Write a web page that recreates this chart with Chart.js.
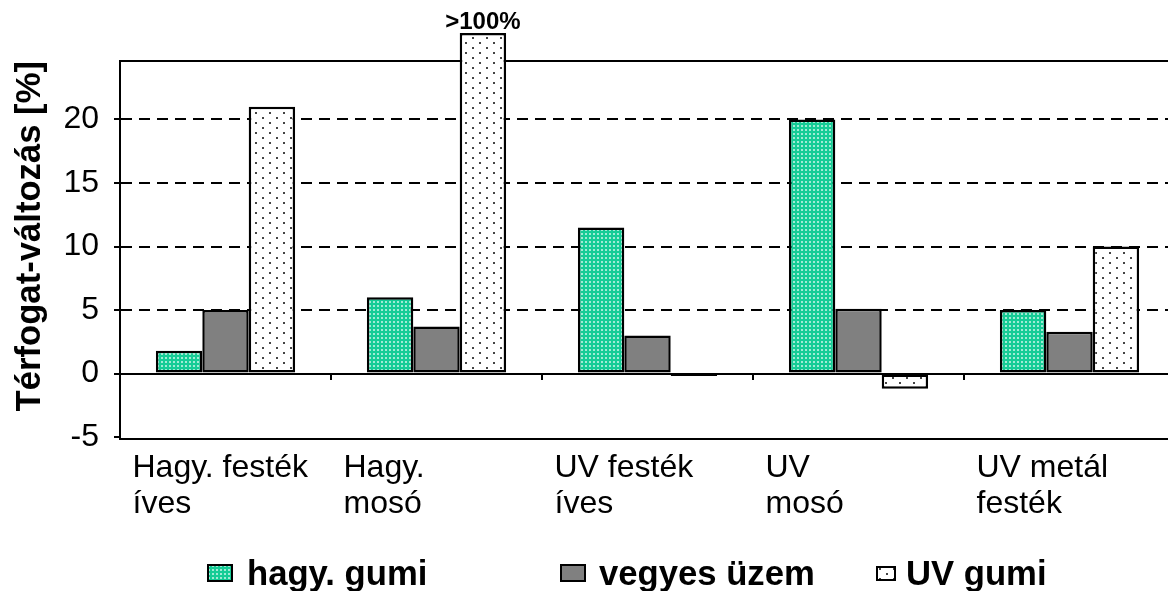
<!DOCTYPE html>
<html>
<head>
<meta charset="utf-8">
<script src="https://cdn.jsdelivr.net/npm/chart.js@4/dist/chart.umd.min.js"></script>
<style>
  html, body { margin: 0; padding: 0; background: #fff; overflow: hidden; }
  #wrap { position: relative; width: 1175px; height: 591px; }
  #legend { position: absolute; left: 0; top: 0; width: 1175px; height: 591px; pointer-events: none; }
  .sw { position: absolute; }
  .lt { position: absolute; font-family: "Liberation Sans", Arial, sans-serif; font-weight: bold;
        font-size: 34.67px; line-height: 40px; color: #000; white-space: nowrap; }
</style>
</head>
<body>
<div id="wrap">
  <canvas id="c"></canvas>
  <div id="legend"></div>
</div>
<script>
// ---- data ----
const categories = [
  ['Hagy. festék', 'íves'],
  ['Hagy.', 'mosó'],
  ['UV festék', 'íves'],
  ['UV', 'mosó'],
  ['UV metál', 'festék']
];
const seriesNames = ['hagy. gumi', 'vegyes üzem', 'UV gumi'];
const hagyGumi   = [1.8, 6.0, 11.5, 20.0, 5.0];
const vegyesUzem = [5.0, 3.7, 3.0, 5.1, 3.3];
const uvGumi     = [21.0, 26.8, -0.2, -1.2, 10.0];
const uvGumiNotes = ['', '>100%', '', '', ''];
const yTicks = [-5, 0, 5, 10, 15, 20];
const yMin = -5.15, yMax = 24.6;
const yTitle = 'Térfogat-változás [%]';

// ---- patterns ----
function makeGreen() {
  const c = document.createElement('canvas'); c.width = 4; c.height = 4;
  const g = c.getContext('2d');
  g.fillStyle = '#16cc96'; g.fillRect(0, 0, 4, 4);
  g.fillStyle = 'rgba(255,255,255,0.6)'; g.fillRect(1, 1, 2, 2);
  return c;
}
function makeDots() {
  const c = document.createElement('canvas'); c.width = 14; c.height = 10;
  const g = c.getContext('2d');
  g.fillStyle = '#fff'; g.fillRect(0, 0, 14, 10);
  g.fillStyle = '#444'; g.fillRect(3, 2, 2, 2); g.fillRect(10, 7, 2, 2);
  return c;
}
const canvas = document.getElementById('c');
const ctx = canvas.getContext('2d');
const greenPat = ctx.createPattern(makeGreen(), 'repeat');
const dotPat = ctx.createPattern(makeDots(), 'repeat');
const fills = [greenPat, '#808080', dotPat];

const FONT = '"Liberation Sans", Arial, sans-serif';

const notePlugin = {
  id: 'notes',
  afterDatasetsDraw(chart) {
    const meta = chart.getDatasetMeta(2);
    const c = chart.ctx;
    c.save();
    c.font = 'bold 24px ' + FONT;
    c.fillStyle = '#000';
    c.textAlign = 'center';
    c.textBaseline = 'alphabetic';
    meta.data.forEach((el, i) => {
      if (uvGumiNotes[i]) c.fillText(uvGumiNotes[i], el.x, el.y - 4);
    });
    c.restore();
  }
};

const series = [hagyGumi, vegyesUzem, uvGumi];
const chart = new Chart(canvas, {
  type: 'bar',
  data: {
    labels: categories,
    datasets: series.map((d, i) => ({
      label: seriesNames[i],
      data: d,
      xAxisID: 'x',
      yAxisID: 'y',
      backgroundColor: fills[i],
      borderColor: '#000',
      borderWidth: 2.5,
      borderSkipped: false,
      categoryPercentage: 0.66,
      barPercentage: 1.0,
      clip: false
    }))
  },
  options: {
    responsive: true,
    maintainAspectRatio: false,
    animation: false,
    devicePixelRatio: 1,
    layout: { padding: { top: 61, left: 0, right: 0, bottom: 0 } },
    plugins: { legend: { display: false }, tooltip: { enabled: false } },
    scales: {
      x: {
        type: 'category',
        position: 'bottom',
        offset: true,
        grid: { display: false, offset: true },
        border: { display: true, color: '#000', width: 2 },
        ticks: {
          color: '#000',
          font: { family: FONT, size: 32, lineHeight: 1.125 },
          padding: 3,
          align: 'start',
          labelOffset: -93,
          maxRotation: 0, minRotation: 0,
          autoSkip: false
        },
        afterFit(s) { s.paddingLeft = 0; s.paddingRight = 0; s.height = 152; }
      },
      xTop: {
        type: 'category',
        axis: 'x',
        position: 'top',
        offset: true,
        grid: { display: false },
        border: { display: true, color: '#000', width: 2 },
        ticks: { display: false },
        afterFit(s) { s.paddingLeft = 0; s.paddingRight = 0; s.height = 0; }
      },
      xZero: {
        type: 'category',
        axis: 'x',
        position: { y: 0 },
        offset: true,
        grid: { display: true, drawOnChartArea: false, offset: true, drawTicks: true,
                tickLength: 5, tickColor: '#000', tickWidth: 2, color: '#000', lineWidth: 2 },
        border: { display: true, color: '#000', width: 2 },
        ticks: { display: false }
      },
      y: {
        type: 'linear',
        position: 'left',
        min: yMin,
        max: yMax,
        afterBuildTicks(s) { s.ticks = yTicks.map(v => ({ value: v })); },
        afterFit(s) { s.width = 120; s.paddingTop = 0; s.paddingBottom = 0; },
        grid: {
          display: true,
          drawTicks: true,
          tickLength: 6,
          tickColor: '#000',
          tickWidth: 2,
          tickBorderDash: [],
          lineWidth: 2,
          color: (c) => (c.tick && (c.tick.value === 0 || c.tick.value === -5)) ? 'rgba(0,0,0,0)' : '#000'
        },
        border: { display: true, color: '#000', width: 2, dash: [11, 7] },
        ticks: {
          color: '#000',
          font: { family: FONT, size: 32 },
          padding: 15,
          callback: (v) => String(v)
        },
        title: {
          display: true,
          text: yTitle,
          color: '#000',
          align: 'end',
          font: { family: FONT, size: 34.67, weight: 'bold' },
          padding: { top: 10, bottom: 0 }
        }
      }
    }
  },
  plugins: [notePlugin]
});

// ---- legend (HTML, from dataset labels/fills) ----
const legendLayout = [
  { box: 207, w: 26, h: 18, text: 247 },
  { box: 560, w: 26, h: 18, text: 599 },
  { box: 876, w: 20, h: 15, text: 906 }
];
const legend = document.getElementById('legend');
chart.data.datasets.forEach((ds, i) => {
  const L = legendLayout[i];
  const sw = document.createElement('canvas');
  sw.width = L.w; sw.height = L.h;
  sw.className = 'sw';
  sw.style.left = L.box + 'px';
  sw.style.top = (573 - L.h / 2) + 'px';
  const g = sw.getContext('2d');
  const pat = (i === 0) ? g.createPattern(makeGreen(), 'repeat') : (i === 2 ? g.createPattern(makeDots(), 'repeat') : '#808080');
  g.fillStyle = pat; g.fillRect(0, 0, L.w, L.h);
  g.strokeStyle = '#000'; g.lineWidth = 2; g.strokeRect(1, 1, L.w - 2, L.h - 2);
  legend.appendChild(sw);
  const t = document.createElement('div');
  t.className = 'lt';
  t.style.left = L.text + 'px';
  t.style.top = '553px';
  t.textContent = ds.label;
  legend.appendChild(t);
});
</script>
</body>
</html>
